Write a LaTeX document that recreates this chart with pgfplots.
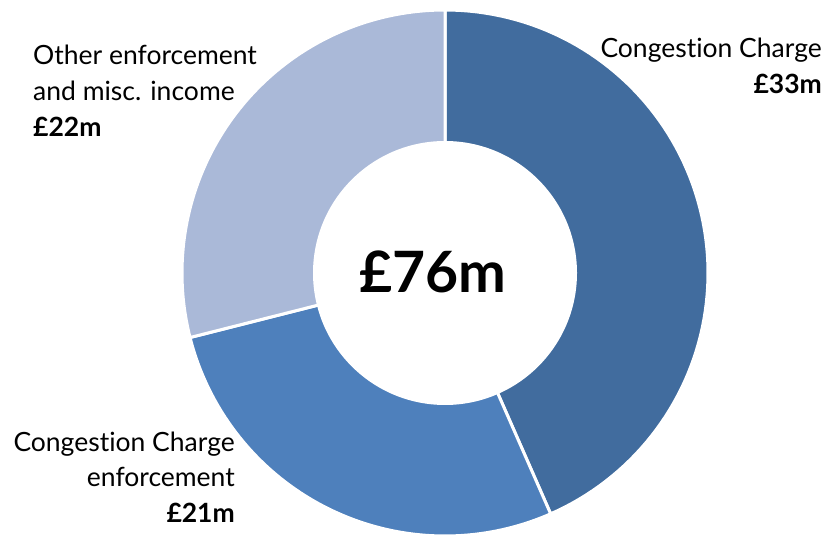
\documentclass[border=0pt]{standalone}
\usepackage{pgfplots}
\usepackage{pgfplotstable}
\pgfplotsset{compat=1.18}
\usepackage{fontspec}
\setmainfont{Lato}[Ligatures=NoCommon]
\definecolor{cA}{HTML}{416C9E}
\definecolor{cB}{HTML}{4E80BC}
\definecolor{cC}{HTML}{AAB9D8}
\pgfplotstableread{
label value
CC 33
CCE 21
Other 22
}\datatable
\pgfplotstablegetelem{0}{value}\of\datatable\let\vA\pgfplotsretval
\pgfplotstablegetelem{1}{value}\of\datatable\let\vB\pgfplotsretval
\pgfplotstablegetelem{2}{value}\of\datatable\let\vC\pgfplotsretval
\pgfmathsetmacro{\tot}{\vA+\vB+\vC}
\pgfmathsetmacro{\aA}{90-360*\vA/\tot}
\pgfmathsetmacro{\aB}{\aA-360*\vB/\tot}
\pgfmathsetmacro{\aC}{\aB-360*\vC/\tot}
\begin{document}
\begin{tikzpicture}
\begin{axis}[
  width=828bp, height=535bp, scale only axis,
  xmin=0, xmax=828, ymin=0, ymax=535,
  hide axis, clip=false,
]
\def\cx{445}\def\cy{262}\def\R{263}
\addplot[fill=cA, draw=white, line width=3bp, domain=\aA:90, samples=90, variable=\t]
  ({\cx+\R*cos(\t)},{\cy+\R*sin(\t)}) -- (axis cs:\cx,\cy) -- cycle;
\addplot[fill=cB, draw=white, line width=3bp, domain=\aB:\aA, samples=90, variable=\t]
  ({\cx+\R*cos(\t)},{\cy+\R*sin(\t)}) -- (axis cs:\cx,\cy) -- cycle;
\addplot[fill=cC, draw=white, line width=3bp, domain=\aC:\aB, samples=90, variable=\t]
  ({\cx+\R*cos(\t)},{\cy+\R*sin(\t)}) -- (axis cs:\cx,\cy) -- cycle;
\fill[white] (axis cs:\cx,\cy) circle[radius=132];
\node[anchor=base, font=\fontsize{57bp}{60bp}\selectfont\bfseries] at (axis cs:433,242) {£76m};
\tikzset{lbl/.style={font=\fontsize{26.5bp}{30bp}\selectfont, inner sep=0pt}}
\node[lbl, anchor=base east] at (axis cs:822,477) {Congestion Charge};
\node[lbl, anchor=base east, font=\fontsize{26.5bp}{30bp}\selectfont\bfseries] at (axis cs:822,441) {£33m};
\node[lbl, anchor=base west] at (axis cs:33,470) {Other enforcement};
\node[lbl, anchor=base west] at (axis cs:33,434) {and misc. income};
\node[lbl, anchor=base west, font=\fontsize{26.5bp}{30bp}\selectfont\bfseries] at (axis cs:33,398) {£22m};
\node[lbl, anchor=base east] at (axis cs:235,83) {Congestion Charge};
\node[lbl, anchor=base east] at (axis cs:235,48) {enforcement};
\node[lbl, anchor=base east, font=\fontsize{26.5bp}{30bp}\selectfont\bfseries] at (axis cs:235,13) {£21m};
\end{axis}
\pgfresetboundingbox
\path (0,0) rectangle (828bp,535bp);
\end{tikzpicture}
\end{document}
